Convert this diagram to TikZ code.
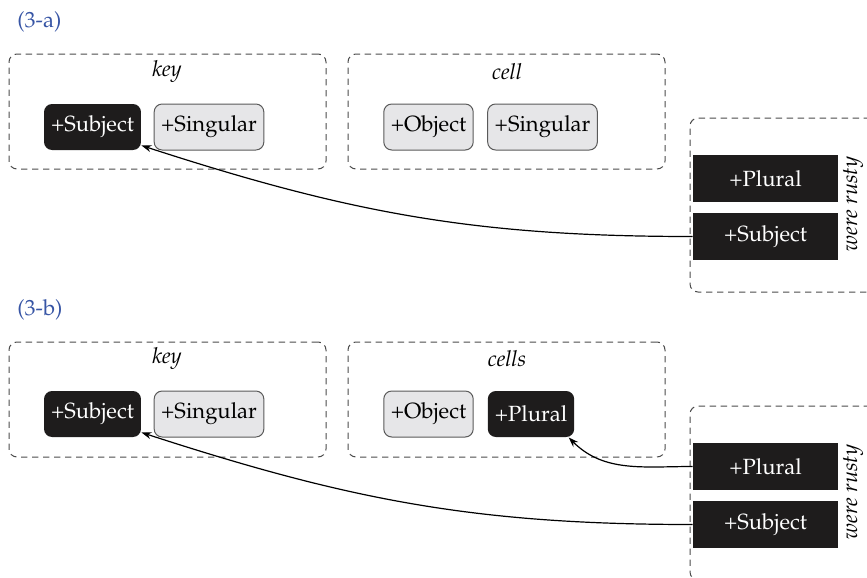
\documentclass[tikz,border=0pt]{standalone}
\usepackage[T1]{fontenc}
\renewcommand{\rmdefault}{ppl}
\usetikzlibrary{arrows.meta}
\definecolor{tagblue}{RGB}{55,85,165}
\definecolor{dashgray}{RGB}{75,75,75}
\definecolor{boxgray}{RGB}{90,90,90}
\definecolor{litegray}{RGB}{230,230,232}
\definecolor{darkbox}{RGB}{30,28,28}
\begin{document}
\begin{tikzpicture}[x=0.5pt,y=-0.5pt,font=\fontsize{11}{13}\selectfont,
  grp/.style={draw=dashgray,dash pattern=on 3.2pt off 2.3pt,rounded corners=4pt,line width=0.5pt,inner sep=0pt},
  feat/.style={rounded corners=4pt,minimum height=23pt,inner xsep=3.5pt,inner ysep=0pt,line width=0.5pt},
  lite/.style={feat,draw=boxgray,fill=litegray,text=black},
  dark/.style={feat,fill=darkbox,text=white},
  bar/.style={fill=darkbox,text=white,minimum width=72.5pt,minimum height=23.5pt,inner sep=0pt},
  lbl/.style={font=\fontsize{11}{13}\selectfont\itshape,inner sep=0pt},
  tag/.style={text=tagblue,anchor=west,inner sep=0pt},
  link/.style={-{Stealth[length=5pt,width=3.5pt]},line width=0.6pt}]
\clip (0,0) rectangle (867,578);
% ---------------- (3-a)
\node[tag] (taga) at (17,22) {(3-a)};
\node[grp,minimum width=158.5pt,minimum height=57.5pt] (akey) at (167.5,111.5) {};
\node[grp,minimum width=158.5pt,minimum height=57.5pt] (acell) at (506.5,111.5) {};
\node[grp,minimum width=105pt,minimum height=87pt] (averb) at (795,205) {};
\node[lbl] (akeyl) at (167,72) {key};
\node[lbl] (acelll) at (507,72) {cell};
\node[dark] (asubj) at (92.5,127) {+Subject};
\node[lite] (asing) at (209,127) {+Singular};
\node[lite] (aobj) at (428.5,127) {+Object};
\node[lite] (asingc) at (542.5,127) {+Singular};
\node[bar] (aplur) at (765.5,178.5) {+Plural};
\node[bar] (arsubj) at (765.5,236.5) {+Subject};
\node[lbl,rotate=90] (averbl) at (853,204) {were rusty};
\draw[link] (arsubj.west) to[out=180,in=-18] ([shift={(0,-5)}]asubj.south east);
% ---------------- (3-b)
\node[tag] (tagb) at (17,310) {(3-b)};
\node[grp,minimum width=158.5pt,minimum height=57.5pt] (bkey) at (167.5,399.5) {};
\node[grp,minimum width=158.5pt,minimum height=57.5pt] (bcell) at (506.5,399.5) {};
\node[grp,minimum width=105pt,minimum height=87pt] (bverb) at (795,493) {};
\node[lbl] (bkeyl) at (167,359) {key};
\node[lbl] (bcelll) at (507,359) {cells};
\node[dark] (bsubj) at (92.5,414) {+Subject};
\node[lite] (bsing) at (209,414) {+Singular};
\node[lite] (bobj) at (428.5,414) {+Object};
\node[dark] (bplurc) at (531,414) {+Plural};
\node[bar] (bplur) at (765.5,466.5) {+Plural};
\node[bar] (brsubj) at (765.5,524.5) {+Subject};
\node[lbl,rotate=90] (bverbl) at (853,492) {were rusty};
\draw[link] (bplur.west) to[out=180,in=-45] ([shift={(-6,0)}]bplurc.south east);
\draw[link] (brsubj.west) to[out=180,in=-18] ([shift={(0,-5)}]bsubj.south east);
\end{tikzpicture}
\end{document}
